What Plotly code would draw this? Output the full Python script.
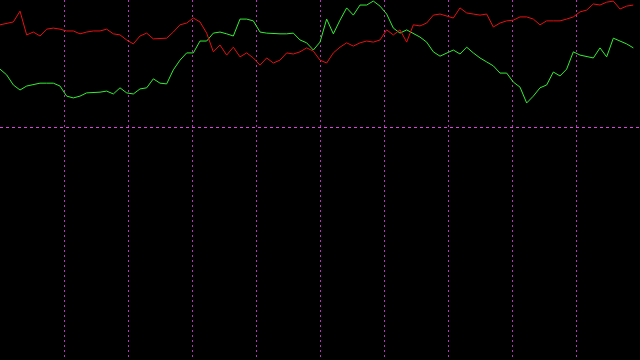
import plotly.graph_objects as go

red_values = [93.1, 93.6, 93.9, 96.9, 90.3, 91.1, 90.0, 91.9, 92.2, 91.9,
              91.4, 91.4, 90.6, 91.1, 91.4, 91.4, 91.9, 90.6, 90.3, 88.9,
              87.8, 90.0, 90.8, 89.2, 89.2, 89.4, 91.1, 93.1, 93.6, 95.0,
              93.9, 90.8, 85.6, 87.5, 84.7, 86.9, 84.2, 85.3, 83.9, 81.9,
              83.9, 82.5, 83.3, 85.3, 85.0, 85.6, 86.7, 85.8, 83.3, 82.5,
              85.3, 86.9, 88.1, 87.2, 88.1, 88.6, 88.3, 88.9, 91.7, 90.3,
              91.7, 88.3, 93.1, 92.8, 93.6, 95.8, 96.1, 95.6, 95.0, 97.8,
              96.4, 96.1, 95.8, 96.1, 92.5, 93.6, 94.2, 94.4, 95.3, 95.3,
              94.7, 93.1, 94.2, 94.2, 94.2, 94.7, 95.3, 96.7, 97.2, 98.9,
              98.6, 99.4, 99.7, 97.5, 98.3, 98.6]

green_values = [80.8, 79.2, 76.4, 75.0, 76.1, 76.4, 76.9, 76.9, 76.9, 76.1,
                73.3, 72.8, 73.3, 74.2, 74.2, 74.4, 74.7, 73.9, 75.6, 74.2,
                73.9, 75.3, 75.6, 78.1, 76.9, 76.7, 80.6, 83.3, 85.3, 85.3,
                88.6, 88.6, 90.8, 91.1, 90.6, 90.0, 94.7, 94.7, 94.2, 91.1,
                90.8, 90.6, 90.6, 90.6, 90.8, 88.9, 88.1, 86.1, 88.3, 94.7,
                90.6, 94.4, 97.8, 95.8, 98.6, 98.6, 99.7, 98.3, 96.1, 92.2,
                90.8, 91.7, 90.8, 89.7, 88.3, 85.6, 84.4, 85.3, 86.1, 85.0,
                86.9, 85.3, 83.9, 82.8, 81.7, 79.7, 79.7, 77.2, 75.8, 71.4,
                73.3, 75.6, 76.4, 80.0, 78.9, 80.8, 85.6, 84.7, 84.2, 83.9,
                86.7, 84.2, 89.4, 88.6, 87.8, 86.7]

x_index = list(range(len(red_values)))
x_grid = [9.6 * k for k in range(1, 10)]
y_grid = [64.72]

fig = go.Figure()
fig.add_trace(go.Scatter(x=x_index, y=green_values, mode="lines",
                         line=dict(color="#33ee33", width=1)))
fig.add_trace(go.Scatter(x=x_index, y=red_values, mode="lines",
                         line=dict(color="#e81010", width=1)))

grid_color = "#c030c0"
fig.update_layout(
    width=640, height=360,
    margin=dict(l=0, r=0, t=0, b=0),
    paper_bgcolor="black", plot_bgcolor="black",
    showlegend=False,
    xaxis=dict(range=[0, 96], tickvals=x_grid, showticklabels=False,
               showgrid=True, gridcolor=grid_color, gridwidth=1,
               griddash="2px,3px", zeroline=False, showline=False, ticks=""),
    yaxis=dict(range=[0, 100], tickvals=y_grid, showticklabels=False,
               showgrid=True, gridcolor="#e040e0", gridwidth=1,
               griddash="3px,3px", zeroline=False, showline=False, ticks=""),
)
fig.write_html("out.html")
